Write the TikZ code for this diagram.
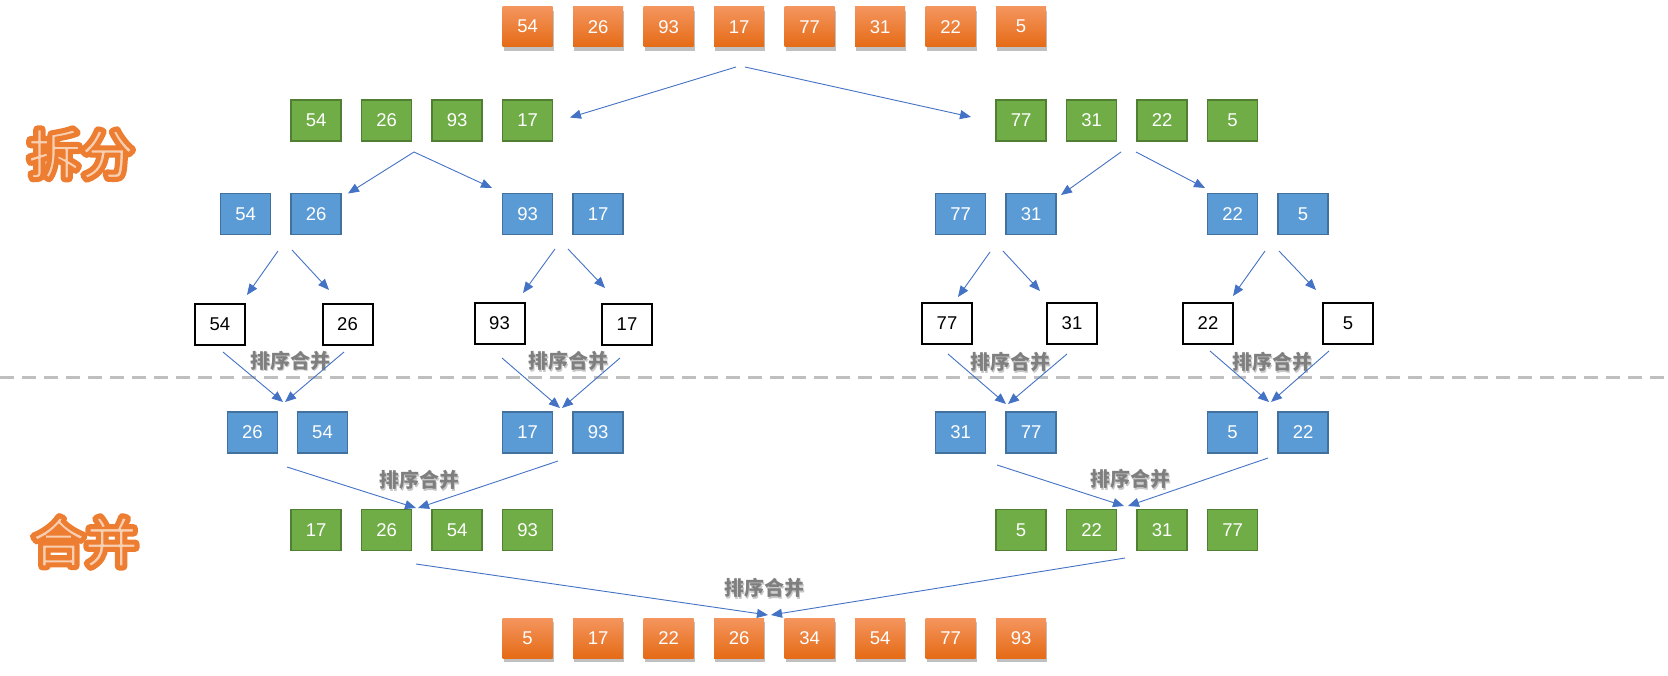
\documentclass[tikz,border=0pt]{standalone}
\usepackage{fontspec}
\setmainfont{Liberation Sans}
\newfontfamily\cjk{Noto Sans CJK SC}
\usetikzlibrary{arrows.meta,shadows}
\definecolor{otop}{HTML}{F4955E}
\definecolor{obot}{HTML}{E56B16}
\definecolor{gfill}{HTML}{70AD47}
\definecolor{gline}{HTML}{507E32}
\definecolor{bfill}{HTML}{5B9BD5}
\definecolor{bline}{HTML}{41719C}
\definecolor{arr}{HTML}{4472C4}
\definecolor{lblc}{HTML}{7F7F7F}
\definecolor{sepc}{HTML}{BFBFBF}
\definecolor{bigorange}{HTML}{ED7D31}
\definecolor{biginner}{HTML}{F9CFB2}
\newcommand{\outerstroke}[1]{\special{pdf:literal direct 2 Tr 8.5 w 1 j 1 J 0.929 0.490 0.192 RG}#1\special{pdf:literal direct 0 Tr 1 w}}
\newcommand{\innerstroke}[1]{\special{pdf:literal direct 2 Tr 1.6 w 1 j 1 J 0.929 0.490 0.192 RG}#1\special{pdf:literal direct 0 Tr 1 w}}
\tikzset{
  box/.style={minimum width=50pt, minimum height=41pt, inner sep=0pt, font=\fontsize{18.5}{18.5}\selectfont},
  obox/.style={box, minimum height=40pt, top color=otop, bottom color=obot, text=white,
    drop shadow={shadow xshift=1pt, shadow yshift=-4pt, opacity=0.35, fill=black!70}},
  gbox/.style={box, fill=gfill, draw=gline, line width=1.5pt, text=white},
  bbox/.style={box, fill=bfill, draw=bline, line width=1.5pt, text=white},
  wbox/.style={box, fill=white, draw=black, line width=2pt, text=black},
  conn/.style={draw=arr, line width=0.9pt, -{Triangle[length=11pt,width=9pt]}},
  lbl/.style={font=\cjk\bfseries\fontsize{20}{20}\selectfont, text=lblc, inner sep=0pt},
  lblsh/.style={font=\cjk\bfseries\fontsize{20}{20}\selectfont, text=black!22, inner sep=0pt},
  big/.style={font=\cjk\fontsize{53}{53}\selectfont, inner sep=0pt}
}
\begin{document}
\begin{tikzpicture}[x=1pt,y=-1pt]
\useasboundingbox[fill=white] (0,0) rectangle (1668,675);
% separator
\draw[sepc, line width=3pt, dash pattern=on 14pt off 8pt] (0,377) -- (1668,377);
% big titles
\node[big, text=bigorange] (splito) at (81,154) {\outerstroke{拆分}};
\node[big, text=biginner] (split) at (81,154) {\innerstroke{拆分}};
\node[big, text=bigorange] (mergeo) at (85,542) {\outerstroke{合并}};
\node[big, text=biginner] (merge) at (85,542) {\innerstroke{合并}};
% top row
\foreach \v [count=\i] in {54,26,93,17,77,31,22,5}
  \node[obox] (t\i) at ({527.6+70.5*(\i-1)},26.7) {\v};
% row 2 green
\node[gbox] (g1) at (316.1,120.5) {54};
\node[gbox] (g2) at (386.6,120.5) {26};
\node[gbox] (g3) at (457.1,120.5) {93};
\node[gbox] (g4) at (527.6,120.5) {17};
\node[gbox] (g5) at (1021.1,120.5) {77};
\node[gbox] (g6) at (1091.6,120.5) {31};
\node[gbox] (g7) at (1162.1,120.5) {22};
\node[gbox] (g8) at (1232.6,120.5) {5};
% row 3 blue
\node[bbox] (b1) at (245.6,214) {54};
\node[bbox] (b2) at (316.1,214) {26};
\node[bbox] (b3) at (527.6,214) {93};
\node[bbox] (b4) at (598.1,214) {17};
\node[bbox] (b5) at (960.6,214) {77};
\node[bbox] (b6) at (1031.1,214) {31};
\node[bbox] (b7) at (1232.6,214) {22};
\node[bbox] (b8) at (1303.1,214) {5};
% row 4 white
\node[wbox] (w1) at (220,324.5) {54};
\node[wbox] (w2) at (347.5,324.5) {26};
\node[wbox] (w3) at (499.5,323) {93};
\node[wbox] (w4) at (627,324.5) {17};
\node[wbox] (w5) at (947,323.5) {77};
\node[wbox] (w6) at (1072,323.5) {31};
\node[wbox] (w7) at (1208,323.5) {22};
\node[wbox] (w8) at (1348,323.5) {5};
% row 5 blue merged
\node[bbox] (m1) at (252.5,432.5) {26};
\node[bbox] (m2) at (322.5,432.5) {54};
\node[bbox] (m3) at (527.6,432.5) {17};
\node[bbox] (m4) at (598.1,432.5) {93};
\node[bbox] (m5) at (960.6,432.5) {31};
\node[bbox] (m6) at (1031.1,432.5) {77};
\node[bbox] (m7) at (1232.6,432.5) {5};
\node[bbox] (m8) at (1303.1,432.5) {22};
% row 6 green merged
\node[gbox] (h1) at (316.1,530) {17};
\node[gbox] (h2) at (386.6,530) {26};
\node[gbox] (h3) at (457.1,530) {54};
\node[gbox] (h4) at (527.6,530) {93};
\node[gbox] (h5) at (1021.1,530) {5};
\node[gbox] (h6) at (1091.6,530) {22};
\node[gbox] (h7) at (1162.1,530) {31};
\node[gbox] (h8) at (1232.6,530) {77};
% bottom row
\foreach \v [count=\i] in {5,17,22,26,34,54,77,93}
  \node[obox] (r\i) at ({527.6+70.5*(\i-1)},638) {\v};
% labels
\foreach \x/\y [count=\k] in {290/360.5,568/361,1010/362,1272/362,419/480,1130/479,764/588}{
  \node[lblsh] (ls\k) at (\x+1.5,\y+1.8) {排序合并};
  \node[lbl] (l\k) at (\x,\y) {排序合并};
}
% connector end points
\coordinate (a1s) at (736,67);   \coordinate (a1e) at (570,117.5);
\coordinate (a2s) at (745,67);   \coordinate (a2e) at (971,117);
\coordinate (a3s) at (414,152);  \coordinate (a3e) at (348,193.5);
\coordinate (a4s) at (414,152);  \coordinate (a4e) at (492,188);
\coordinate (a5s) at (1121,152); \coordinate (a5e) at (1061,195);
\coordinate (a6s) at (1136,152); \coordinate (a6e) at (1205,188);
\coordinate (a7s) at (278,251);  \coordinate (a7e) at (247,295);
\coordinate (a8s) at (292,250);  \coordinate (a8e) at (329,290);
\coordinate (a9s) at (555,249);  \coordinate (a9e) at (523,293);
\coordinate (a10s) at (568,249); \coordinate (a10e) at (605,288);
\coordinate (a11s) at (990,252); \coordinate (a11e) at (958,297);
\coordinate (a12s) at (1003,251);\coordinate (a12e) at (1040,291);
\coordinate (a13s) at (1265,251);\coordinate (a13e) at (1233,296);
\coordinate (a14s) at (1279,251);\coordinate (a14e) at (1316,290);
\coordinate (a15s) at (223,352); \coordinate (a15e) at (283,402);
\coordinate (a16s) at (344,352); \coordinate (a16e) at (285,402);
\coordinate (a17s) at (502,358); \coordinate (a17e) at (560,408);
\coordinate (a18s) at (620,358); \coordinate (a18e) at (562,408);
\coordinate (a19s) at (948,354); \coordinate (a19e) at (1006,404);
\coordinate (a20s) at (1067,354);\coordinate (a20e) at (1008,404);
\coordinate (a21s) at (1210,351);\coordinate (a21e) at (1269,402);
\coordinate (a22s) at (1329,351);\coordinate (a22e) at (1271,402);
\coordinate (a23s) at (287,467); \coordinate (a23e) at (416,508);
\coordinate (a24s) at (558,461); \coordinate (a24e) at (418,508);
\coordinate (a25s) at (997,465); \coordinate (a25e) at (1124,506);
\coordinate (a26s) at (1268,458);\coordinate (a26e) at (1128,506);
\coordinate (a27s) at (416,564); \coordinate (a27e) at (768,615);
\coordinate (a28s) at (1125,558);\coordinate (a28e) at (771,615);
\foreach \k in {1,...,28}
  \draw[conn] (a\k s) -- (a\k e);
\end{tikzpicture}
\end{document}
